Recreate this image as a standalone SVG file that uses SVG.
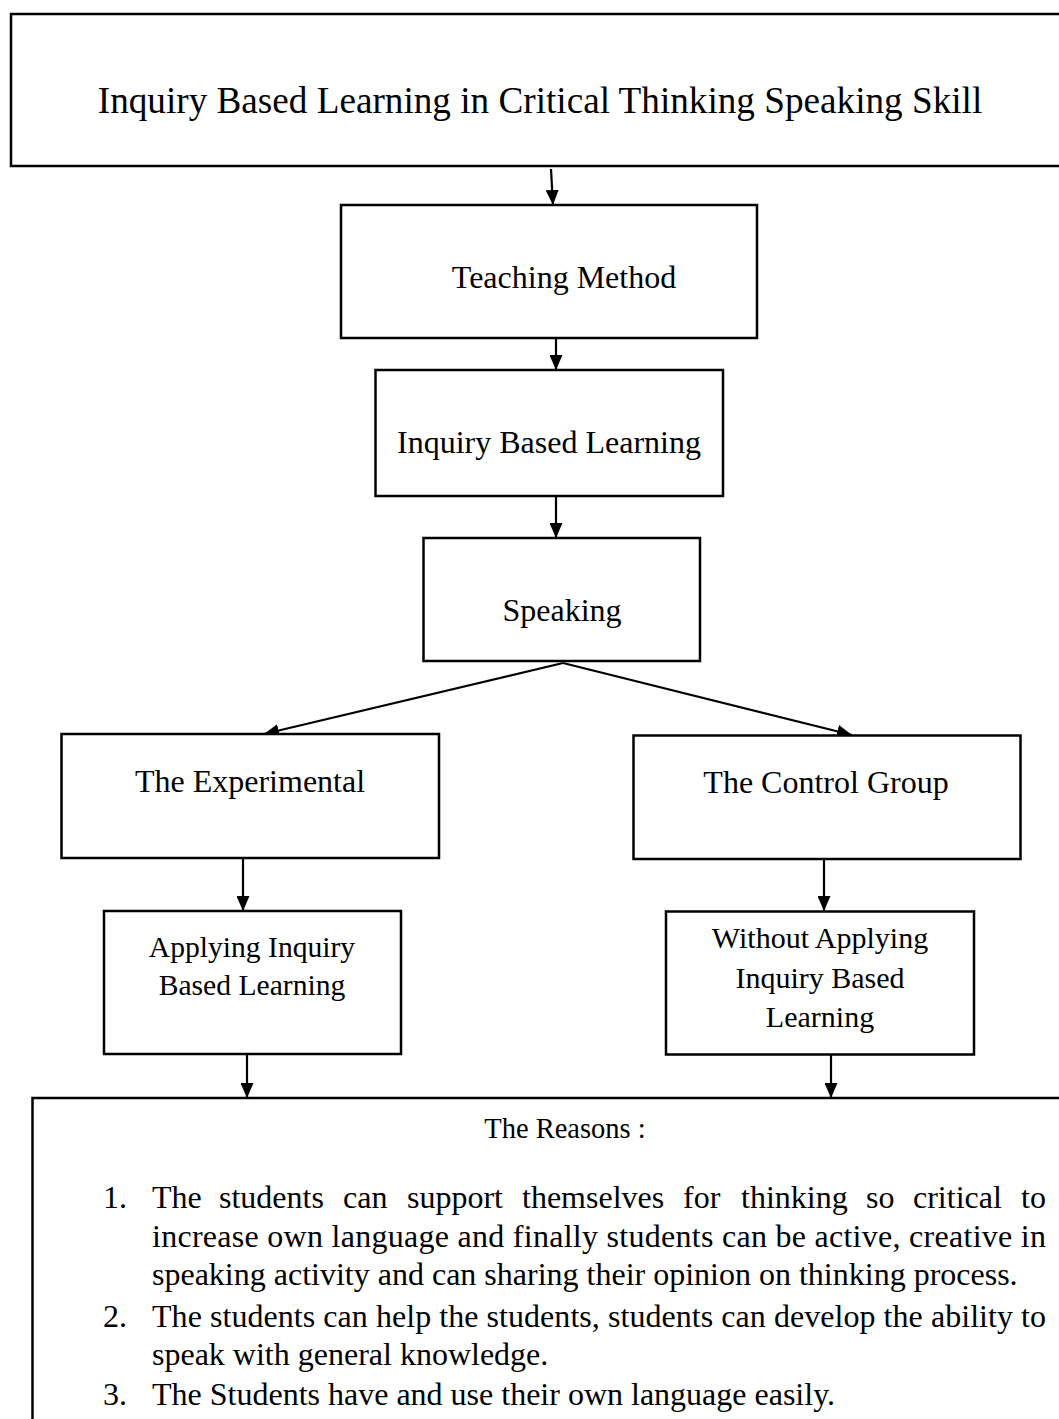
<svg xmlns="http://www.w3.org/2000/svg" width="1059" height="1419" viewBox="0 0 1059 1419">
<style>
.box{fill:#fff;stroke:#000;stroke-width:2.5}
.t{font-family:"Liberation Serif","Times New Roman",serif;fill:#000;text-anchor:middle}
.l{font-family:"Liberation Serif","Times New Roman",serif;fill:#000;font-size:32px}
.c{stroke:#000;stroke-width:2.2;fill:none;marker-end:url(#ah)}
</style>
<defs>
<marker id="ah" viewBox="0 0 15 13" refX="15" refY="6.5" markerWidth="15" markerHeight="13" markerUnits="userSpaceOnUse" orient="auto">
<path d="M0,0 L15,6.5 L0,13 z" fill="#000"/>
</marker>
</defs>
<rect width="1059" height="1419" fill="#fff"/>
<g id="connectors">
<line class="c" x1="551" y1="169" x2="553" y2="205"/>
<line class="c" x1="556" y1="338" x2="556" y2="370"/>
<line class="c" x1="556" y1="496" x2="556" y2="538"/>
<line class="c" x1="563" y1="663" x2="264" y2="734"/>
<line class="c" x1="563" y1="663" x2="852" y2="735"/>
<line class="c" x1="243" y1="858" x2="243" y2="911"/>
<line class="c" x1="824" y1="860" x2="824" y2="911"/>
<line class="c" x1="247" y1="1054" x2="247" y2="1098"/>
<line class="c" x1="831" y1="1055" x2="831" y2="1098"/>
</g>
<g id="title">
<rect class="box" x="11" y="14" width="1060" height="152"/>
<text class="t" x="540" y="113" font-size="37.2">Inquiry Based Learning in Critical Thinking Speaking Skill</text>
</g>
<g id="teaching">
<rect class="box" x="341" y="205" width="416" height="133"/>
<text class="t" x="564" y="288" font-size="32">Teaching Method</text>
</g>
<g id="ibl">
<rect class="box" x="375.5" y="370" width="347.5" height="126"/>
<text class="t" x="549" y="453" font-size="32">Inquiry Based Learning</text>
</g>
<g id="speaking">
<rect class="box" x="423.5" y="538" width="276.5" height="123"/>
<text class="t" x="562" y="621" font-size="32">Speaking</text>
</g>
<g id="experimental">
<rect class="box" x="61.5" y="734" width="377.5" height="124"/>
<text class="t" x="250" y="792" font-size="32">The Experimental</text>
</g>
<g id="control">
<rect class="box" x="633.5" y="735.5" width="387" height="123.5"/>
<text class="t" x="826" y="793" font-size="32">The Control Group</text>
</g>
<g id="applying">
<rect class="box" x="104" y="911" width="297" height="143"/>
<text class="t" x="252" y="957" font-size="29.6">Applying Inquiry</text>
<text class="t" x="252" y="995" font-size="29.6">Based Learning</text>
</g>
<g id="without">
<rect class="box" x="666" y="911.5" width="308" height="143"/>
<text class="t" x="820" y="948" font-size="30">Without Applying</text>
<text class="t" x="820" y="987.5" font-size="30">Inquiry Based</text>
<text class="t" x="820" y="1026.5" font-size="30">Learning</text>
</g>
<g id="reasons">
<rect class="box" x="32.5" y="1098" width="1040" height="340"/>
<text class="t" x="565" y="1138" font-size="28.5">The Reasons :</text>
<text class="l" x="103" y="1208">1.</text>
<text class="l" y="1208"><tspan x="152">The</tspan><tspan x="219">students</tspan><tspan x="343">can</tspan><tspan x="407">support</tspan><tspan x="522">themselves</tspan><tspan x="683">for</tspan><tspan x="741">thinking</tspan><tspan x="866">so</tspan><tspan x="913">critical</tspan><tspan x="1021">to</tspan></text>
<text class="l" x="152" y="1247" textLength="894" lengthAdjust="spacing">increase own language and finally students can be active, creative in</text>
<text class="l" x="152" y="1285">speaking activity and can sharing their opinion on thinking process.</text>
<text class="l" x="103" y="1327">2.</text>
<text class="l" x="152" y="1327" textLength="894" lengthAdjust="spacing">The students can help the students, students can develop the ability to</text>
<text class="l" x="152" y="1365">speak with general knowledge.</text>
<text class="l" x="103" y="1405">3.</text>
<text class="l" x="152" y="1405">The Students have and use their own language easily.</text>
</g>
</svg>
